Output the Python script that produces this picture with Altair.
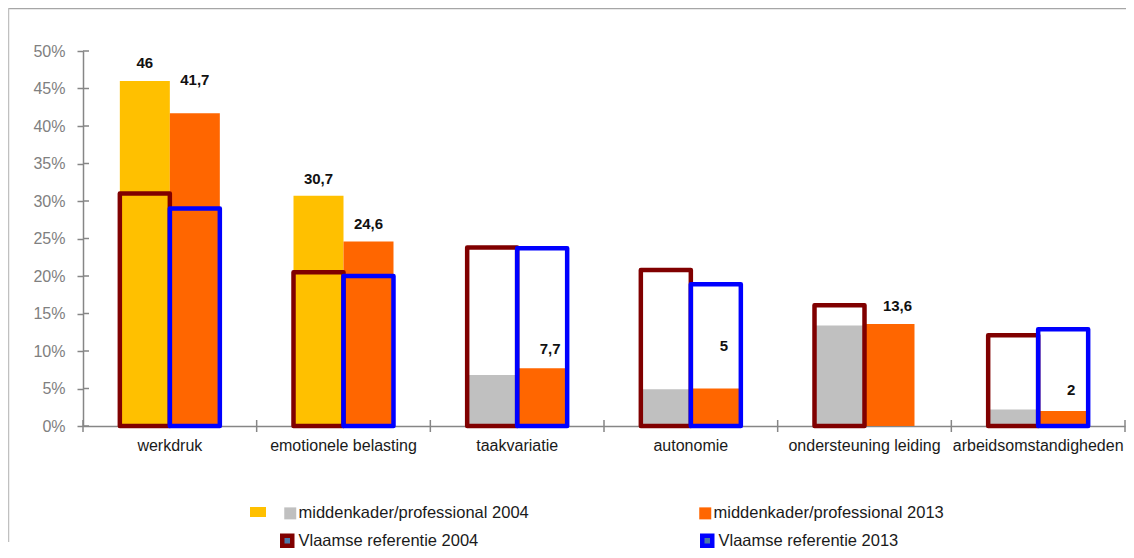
import altair as alt
import pandas as pd

# ---------------- data ----------------
categorieen = ["werkdruk", "emotionele belasting", "taakvariatie", "autonomie",
               "ondersteuning leiding", "arbeidsomstandigheden"]
mk_2004 = [46, 30.7, 6.8, 4.9, 13.4, 2.2]
mk_2013 = [41.7, 24.6, 7.7, 5, 13.6, 2]
ref_2004 = [31, 20.5, 23.8, 20.8, 16.1, 12.1]
ref_2013 = [29, 20, 23.7, 18.9, None, 12.9]
gemarkeerd = ["werkdruk", "emotionele belasting"]
y_ticks = [0, 5, 10, 15, 20, 25, 30, 35, 40, 45, 50]

# data labels (category, year, label height in %)
label_cat = ["werkdruk", "werkdruk", "emotionele belasting", "emotionele belasting",
             "taakvariatie", "autonomie", "ondersteuning leiding", "arbeidsomstandigheden"]
label_jaar = ["2004", "2013", "2004", "2013", "2013", "2013", "2013", "2013"]
label_hoogte = [48.4, 46.2, 33.0, 26.9, 10.3, 10.7, 16.0, 4.8]

LBL04 = "middenkader/professional 2004"
LBL13 = "middenkader/professional 2013"
REF04 = "Vlaamse referentie 2004"
REF13 = "Vlaamse referentie 2013"
GEEL = "middenkader/professional 2004 (geel)"

FONT = "Liberation Sans"

rows = []
for c, a, b in zip(categorieen, mk_2004, mk_2013):
    rows.append({"categorie": c, "jaar": "2004", "waarde": a,
                 "reeks": GEEL if c in gemarkeerd else LBL04})
    rows.append({"categorie": c, "jaar": "2013", "waarde": b, "reeks": LBL13})
df_bars = pd.DataFrame(rows)

rrows = []
for c, a, b in zip(categorieen, ref_2004, ref_2013):
    rrows.append({"categorie": c, "jaar": "2004", "waarde": a, "ref": REF04})
    if b is not None:
        rrows.append({"categorie": c, "jaar": "2013", "waarde": b, "ref": REF13})
df_ref = pd.DataFrame(rrows)


def fmt(v):
    return ("%g" % v).replace(".", ",")


lookup = {(r["categorie"], r["jaar"]): r["waarde"] for r in rows}
df_lbl = pd.DataFrame({
    "categorie": label_cat,
    "jaar": label_jaar,
    "hoogte": label_hoogte,
    "tekst": [fmt(lookup[(c, j)]) for c, j in zip(label_cat, label_jaar)],
    "groep": ["a" if c in gemarkeerd else "b" for c in label_cat],
})

df_xt = pd.DataFrame({"grens": list(range(len(categorieen) + 1))})
df_yt = pd.DataFrame({"w": y_ticks})
one = pd.DataFrame({"k": [0]})

# ---------------- scales ----------------
x_scale = alt.Scale(domain=categorieen, paddingInner=0.4242, paddingOuter=0.2121)
xo_scale = alt.Scale(domain=["2004", "2013"], paddingInner=0, paddingOuter=0)
y_scale = alt.Scale(domain=[0, 50], nice=False, zero=True)

x_axis = alt.Axis(title=None, ticks=False, labelAngle=0, labelFontSize=16, labelFont=FONT,
                  labelColor="#1a1a1a", domainColor="#868686", domainWidth=1.5,
                  labelPadding=11, labelLimit=400, labelOverlap=False)
y_axis = alt.Axis(title=None, values=y_ticks, labelExpr="datum.value + '%'", grid=False,
                  domainColor="#868686", domainWidth=1.5, tickColor="#868686", tickWidth=1.5,
                  tickSize=6, labelFontSize=16, labelFont=FONT, labelColor="#808080",
                  labelPadding=12, labelOverlap=False)

X = alt.X("categorie:N", scale=x_scale, axis=x_axis, sort=categorieen)
XO = alt.XOffset("jaar:N", scale=xo_scale)

bars = alt.Chart(df_bars).mark_bar().encode(
    x=X, xOffset=XO,
    y=alt.Y("waarde:Q", scale=y_scale, axis=y_axis),
    fill=alt.Fill("reeks:N",
                  scale=alt.Scale(domain=[GEEL, LBL04, LBL13],
                                  range=["#FFC000", "#C0C0C0", "#FF6600"]),
                  legend=alt.Legend(title=None, orient="none", legendX=199, legendY=454,
                                    direction="horizontal", columns=2, columnPadding=168,
                                    values=[LBL04, LBL13], symbolType="square",
                                    symbolSize=144, symbolStrokeWidth=0, labelFontSize=16.5,
                                    labelFont=FONT, labelColor="#1a1a1a", padding=0,
                                    labelOffset=0, labelLimit=400)),
)

outlines = alt.Chart(df_ref).mark_bar(fillOpacity=0, strokeWidth=4.5, strokeJoin="round").encode(
    x=X, xOffset=XO,
    y=alt.Y("waarde:Q", scale=y_scale, axis=y_axis),
    stroke=alt.Stroke("ref:N",
                      scale=alt.Scale(domain=[REF04, REF13], range=["#800000", "#0000FF"]),
                      legend=alt.Legend(title=None, orient="none", legendX=196, legendY=481,
                                        direction="horizontal", columns=2, columnPadding=214,
                                        symbolType="square", symbolSize=100,
                                        symbolStrokeWidth=4.5, symbolFillColor="white",
                                        labelFontSize=16.5, labelFont=FONT,
                                        labelColor="#1a1a1a", padding=0, labelOffset=3,
                                        labelLimit=400)),
)

lbl_a = alt.Chart(df_lbl).transform_filter(alt.datum.groep == "a").mark_text(
    font=FONT, fontSize=15, fontWeight="bold", color="#111111", baseline="middle"
).encode(x=X, xOffset=XO, y=alt.Y("hoogte:Q", scale=y_scale, axis=y_axis), text="tekst:N")

lbl_b = alt.Chart(df_lbl).transform_filter(alt.datum.groep == "b").mark_text(
    font=FONT, fontSize=15, fontWeight="bold", color="#111111", baseline="middle", dx=8
).encode(x=X, xOffset=XO, y=alt.Y("hoogte:Q", scale=y_scale, axis=y_axis), text="tekst:N")

yticks_in = alt.Chart(df_yt).mark_rule(color="#868686", strokeWidth=1.5).encode(
    y=alt.Y("w:Q", scale=y_scale, axis=y_axis), x=alt.value(0), x2=alt.value(6))

main = alt.layer(bars, outlines, lbl_a, lbl_b, yticks_in)

xticks = alt.Chart(df_xt).mark_rule(color="#868686", strokeWidth=1.5).encode(
    x=alt.X("grens:Q", scale=alt.Scale(domain=[0, len(categorieen)], nice=False, zero=False),
            axis=None),
    y=alt.value(369), y2=alt.value(381))

geel_leg = alt.Chart(one).mark_rect(color="#FFC000").encode(
    x=alt.value(167), x2=alt.value(183), y=alt.value(456), y2=alt.value(466))

frame_top = alt.Chart(one).mark_rule(color="#a6a6a6", strokeWidth=1.5).encode(
    x=alt.value(-75), x2=alt.value(1045), y=alt.value(-42.5))
frame_left = alt.Chart(one).mark_rule(color="#c0c0c0", strokeWidth=1.5).encode(
    x=alt.value(-74.5), y=alt.value(-43), y2=alt.value(491))

chart = alt.layer(main, xticks, geel_leg, frame_top, frame_left).resolve_scale(
    x="independent"
).properties(
    width=1042, height=375,
    autosize=alt.AutoSizeParams(type="none"),
    padding={"left": 75, "top": 43, "right": 1, "bottom": 124},
).configure_view(stroke=None)

chart.save("out.html", embed_options={"renderer": "svg", "actions": False})
